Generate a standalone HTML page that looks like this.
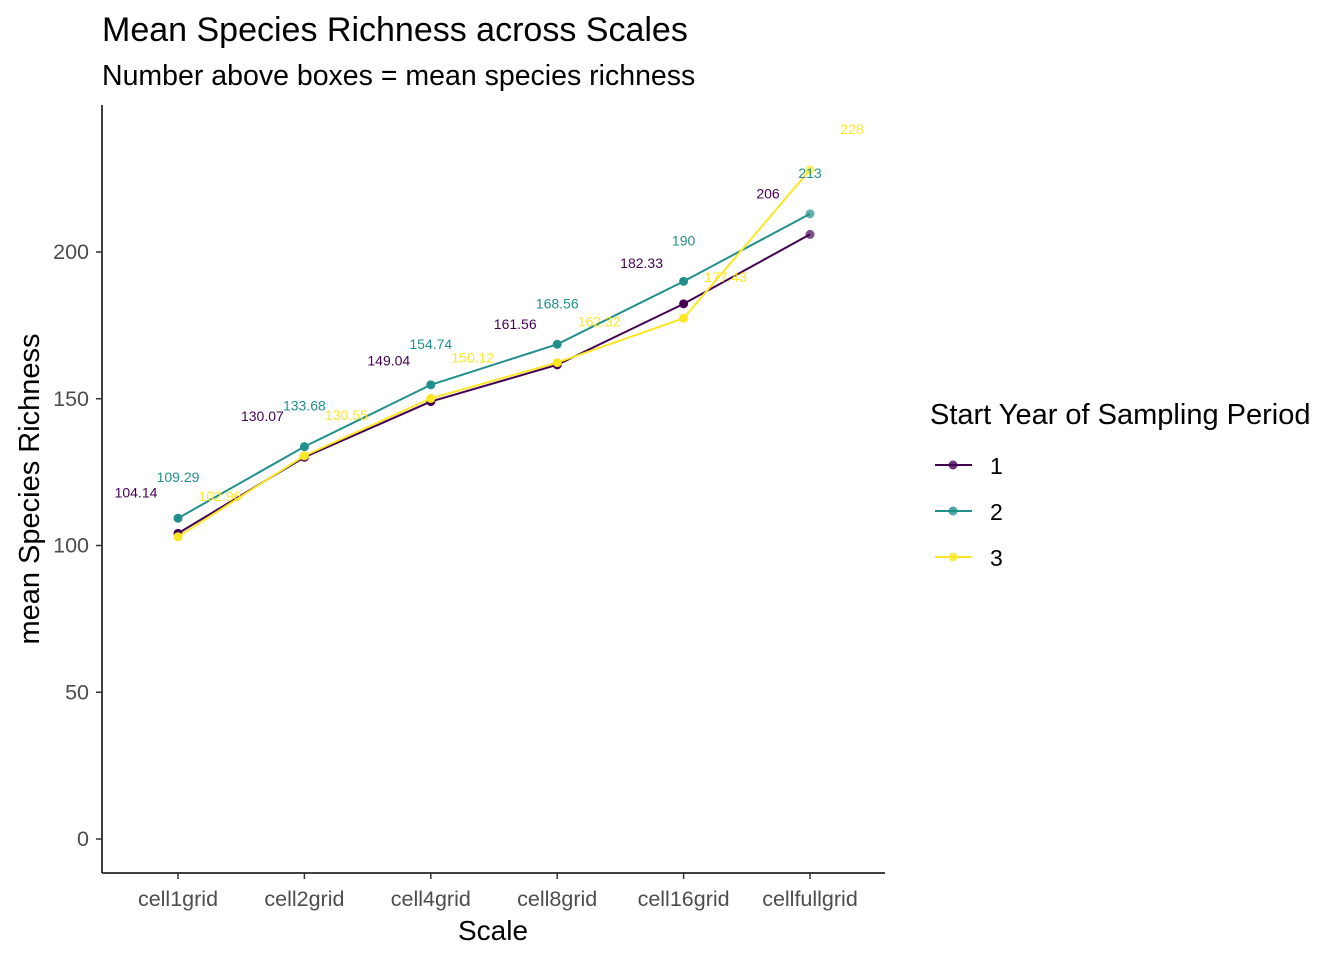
<!DOCTYPE html>
<html><head><meta charset="utf-8"><style>
body{margin:0;background:#fff;}
svg{font-family:"Liberation Sans",Arial,sans-serif;}
</style></head><body>
<svg id="chart" width="1344" height="960">
<text x="102" y="41" font-size="34" fill="#000">Mean Species Richness across Scales</text>
<text x="102" y="85" font-size="28.5" fill="#000">Number above boxes = mean species richness</text>
<g id="axes"></g>
<g id="lines"></g>
<g id="labels"></g>
<text x="493" y="940" font-size="28" text-anchor="middle">Scale</text>
<text transform="translate(39,489) rotate(-90)" font-size="29" text-anchor="middle">mean Species Richness</text>
<text x="930" y="424" font-size="29">Start Year of Sampling Period</text>
<g id="legend"></g>
</svg>
<script>
const categories=["cell1grid","cell2grid","cell4grid","cell8grid","cell16grid","cellfullgrid"];
const s1=[104.14,130.07,149.04,161.56,182.33,206];
const s2=[109.29,133.68,154.74,168.56,190,213];
const s3=[102.96,130.55,150.12,162.32,177.43,228];
const l1=["104.14","130.07","149.04","161.56","182.33","206"];
const l2=["109.29","133.68","154.74","168.56","190","213"];
const l3=["102.96","130.55","150.12","162.32","177.43","228"];
const yTicks=[0,50,100,150,200];
const seriesNames=["1","2","3"];
const colors=["#440154","#21908C","#FDE725"];
const NS="http://www.w3.org/2000/svg";
const y=v=>839-v*(839-252)/200;
const x=i=>178+i*126.4;
function mk(tag,attrs,parent){const e=document.createElementNS(NS,tag);for(const k in attrs)e.setAttribute(k,attrs[k]);parent.appendChild(e);return e;}
const axes=document.getElementById('axes');
let e=mk('line',{x1:102,y1:105,x2:102,y2:873,stroke:'#000','stroke-width':1.5},axes);


e=mk('line',{x1:102,y1:873,x2:885,y2:873,stroke:'#000','stroke-width':1.5},axes);


yTicks.forEach(t=>{
 mk('line',{x1:96,x2:102,y1:y(t),y2:y(t),stroke:'#333','stroke-width':1.5},axes);
 const tx=mk('text',{x:89,y:y(t)+7,'font-size':21.5,'text-anchor':'end',fill:'#4d4d4d'},axes);
 tx.textContent=t;
 
 
});
categories.forEach((c,i)=>{
 mk('line',{x1:x(i),x2:x(i),y1:873,y2:879,stroke:'#333','stroke-width':1.5},axes);
 const tx=mk('text',{x:x(i),y:906,'font-size':21.5,'text-anchor':'middle',fill:'#4d4d4d'},axes);
 tx.textContent=c;
 
 
});
const series=[s1,s2,s3], labs=[l1,l2,l3], offs=[-42,0,42];
const lines=document.getElementById('lines'), labels=document.getElementById('labels');
series.forEach((s,k)=>{
 const p=mk('polyline',{points:s.map((v,i)=>x(i)+','+y(v)).join(' '),fill:'none',stroke:colors[k],'stroke-width':2},lines);
 
 
 s.forEach((v,i)=>{
  const c=mk('circle',{cx:x(i),cy:y(v),r:4.5,fill:colors[k],'fill-opacity':i==5?0.7:1},lines);
  
  
  const t=mk('text',{x:x(i)+offs[k],y:y(v)-41+5,'font-size':14,'text-anchor':'middle',fill:colors[k]},labels);
  t.textContent=labs[k][i];
  
  
 });
});
const lg=document.getElementById('legend');
seriesNames.forEach((n,k)=>{
 const yy=465+k*46;
 const g=mk('g',{},lg);
 
 
 mk('line',{x1:935,x2:972,y1:yy,y2:yy,stroke:colors[k],'stroke-width':2},g);
 mk('circle',{cx:953,cy:yy,r:4.5,fill:colors[k],'fill-opacity':0.8},g);
 const t=mk('text',{x:990,y:yy+9,'font-size':23},g);
 t.textContent=n;
});
</script>
</body></html>
